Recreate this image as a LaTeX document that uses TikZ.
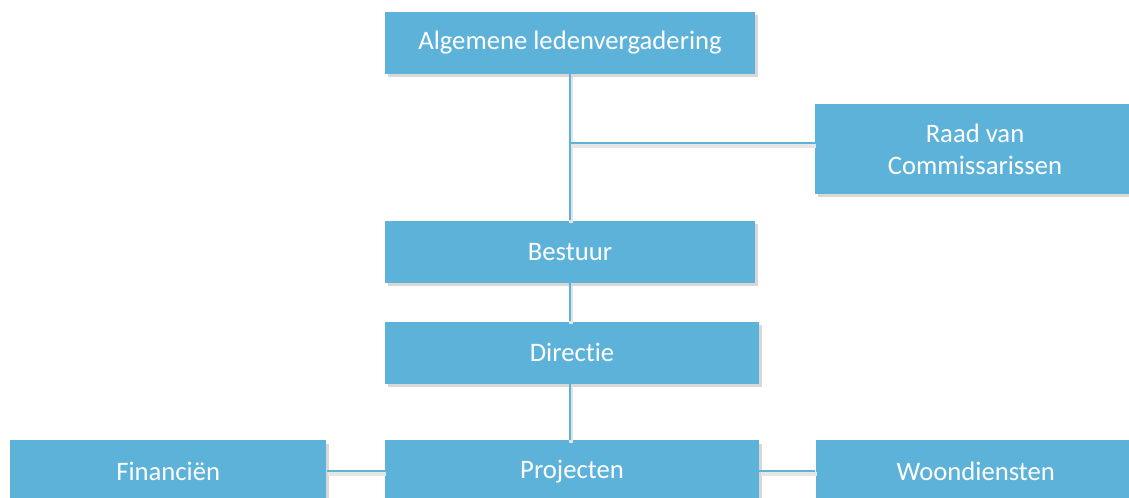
\documentclass[tikz,border=0pt]{standalone}
\usepackage{fontspec}
\setmainfont{Carlito}[Ligatures=NoCommon]
\usetikzlibrary{positioning,shadows}
\definecolor{orgblue}{HTML}{5DB2DA}

\begin{document}
\begin{tikzpicture}[x=0.75pt,y=-0.75pt,node distance=42pt,semithick]
\tikzstyle{unit}=[rectangle,fill=orgblue,text=white,align=center,font=\fontsize{20}{24}\selectfont,minimum width=277.5pt,minimum height=46.5pt,drop shadow={shadow xshift=2pt,shadow yshift=-2.5pt,fill=black!30,opacity=0.5}]
\tikzstyle{link}=[draw=orgblue,line width=1.5pt,preaction={draw=black!10,line width=3pt,transform canvas={shift={(1pt,-2pt)}}}]

\useasboundingbox (0,0) rectangle (1129,498);

\node[unit] (alv) at (570,43) {Algemene ledenvergadering};
\node[unit,minimum width=240pt,minimum height=67.5pt] (rvc) at (975,149) {Raad van\\Commissarissen};
\node[unit] (bestuur) [below=109.5pt of alv] {Bestuur};
\node[unit,minimum width=280.5pt] (directie) [below=28.5pt of bestuur,xshift=1.5pt] {Directie};
\node[unit,minimum width=280.5pt] (projecten) [below=of directie] {Projecten};
\node[unit,minimum width=237pt] (financien) [left=43.5pt of projecten] {Financiën};
\node[unit,minimum width=240pt] (wonen) [right=of projecten] {Woondiensten};

\coordinate (tap) at (alv.south |- 0,143);

\path[link]
(alv.south) -- (alv.south |- bestuur.north)
(tap) -- (tap -| rvc.west)
(alv.south |- bestuur.south) -- (alv.south |- directie.north)
(alv.south |- directie.south) -- (alv.south |- projecten.north)
(financien) -- (projecten)
(projecten) -- (wonen);
\end{tikzpicture}
\end{document}
